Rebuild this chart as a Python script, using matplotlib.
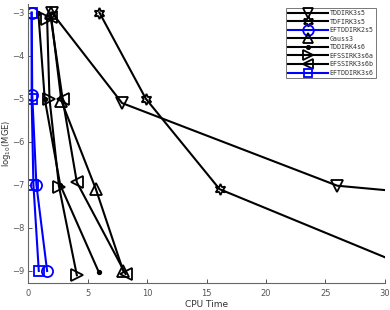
import matplotlib
matplotlib.use("Agg")
import matplotlib.pyplot as plt

names = ["TDDIRK3s5", "TDFIRK3s5", "EFTDDIRK2s5", "Gauss3", "TDDIRK4s6",
         "EFSSIRK3s6a", "EFSSIRK3s6b", "EFTDDIRK3s6"]
tddirk3s5_x = [2.0, 7.9, 26.0, 104.0]
tddirk3s5_y = [-3.0, -5.1, -7.02, -9.0]
tdfirk3s5_x = [6.0, 9.9, 16.1, 32.8]
tdfirk3s5_y = [-3.0, -5.0, -7.1, -9.0]
eftddirk2s5_x = [0.3, 0.35, 0.7, 1.6]
eftddirk2s5_y = [-3.0, -4.92, -7.0, -9.0]
gauss3_x = [1.9, 2.8, 5.7, 8.0]
gauss3_y = [-3.0, -5.05, -7.1, -9.0]
tddirk4s6_x = [0.86, 1.4, 2.7, 5.95]
tddirk4s6_y = [-3.0, -5.0, -7.0, -9.03]
efssirk3s6a_x = [1.6, 1.8, 2.6, 4.1]
efssirk3s6a_y = [-3.15, -5.0, -7.04, -9.1]
efssirk3s6b_x = [1.9, 2.9, 4.1, 8.2]
efssirk3s6b_y = [-3.1, -5.0, -6.94, -9.07]
eftddirk3s6_x = [0.3, 0.3, 0.45, 0.9]
eftddirk3s6_y = [-3.0, -5.0, -7.0, -9.0]

xs = [tddirk3s5_x, tdfirk3s5_x, eftddirk2s5_x, gauss3_x, tddirk4s6_x,
      efssirk3s6a_x, efssirk3s6b_x, eftddirk3s6_x]
ys = [tddirk3s5_y, tdfirk3s5_y, eftddirk2s5_y, gauss3_y, tddirk4s6_y,
      efssirk3s6a_y, efssirk3s6b_y, eftddirk3s6_y]
markers = ["v", (6, 1, 0), "o", "^", ".", ">", "<", "s"]
colors = ["k", "k", "b", "k", "k", "k", "k", "b"]
msizes = [8, 8, 8, 8, 5, 8, 8, 6.5]

fig = plt.figure(figsize=(3.9, 3.1), dpi=100)
ax = fig.add_axes([0.072, 0.087, 0.915, 0.9])
for x, y, m, c, ms, n in zip(xs, ys, markers, colors, msizes, names):
    fc = c if m == "." else "none"
    ax.plot(x, y, color=c, marker=m, markersize=ms, markerfacecolor=fc,
            markeredgecolor=c, markeredgewidth=1.3, linewidth=1.5, label=n)

ax.set_xlim(0, 30)
ax.set_ylim(-9.28, -2.8)
ax.set_xticks([0, 5, 10, 15, 20, 25, 30])
ax.set_yticks([-9, -8, -7, -6, -5, -4, -3])
for s in ["top", "right"]:
    ax.spines[s].set_visible(False)
for s in ["left", "bottom"]:
    ax.spines[s].set_color("#666666")
    ax.spines[s].set_linewidth(0.8)
ax.tick_params(direction="in", length=3, width=0.7, colors="#555555",
               labelsize=6, pad=2.5)
ax.tick_params(axis="x", pad=4)
ax.set_xlabel("CPU Time", fontsize=6.5, color="#333333", labelpad=2)
ax.set_ylabel("log$_{10}$(MGE)", fontsize=6, color="#333333")
ax.yaxis.set_label_coords(-0.043, 0.5)

leg = ax.legend(loc="upper right", bbox_to_anchor=(0.978, 0.99),
                prop={"family": "DejaVu Sans Mono", "size": 4.8},
                frameon=True, fancybox=False, edgecolor="#555555",
                handlelength=6.0, handletextpad=0.3, labelspacing=0.38,
                borderpad=0.3, borderaxespad=0.2, markerscale=0.95)
leg.get_frame().set_linewidth(0.7)
for t in leg.get_texts():
    t.set_color("#333333")

fig.savefig("out.png", dpi=100)
